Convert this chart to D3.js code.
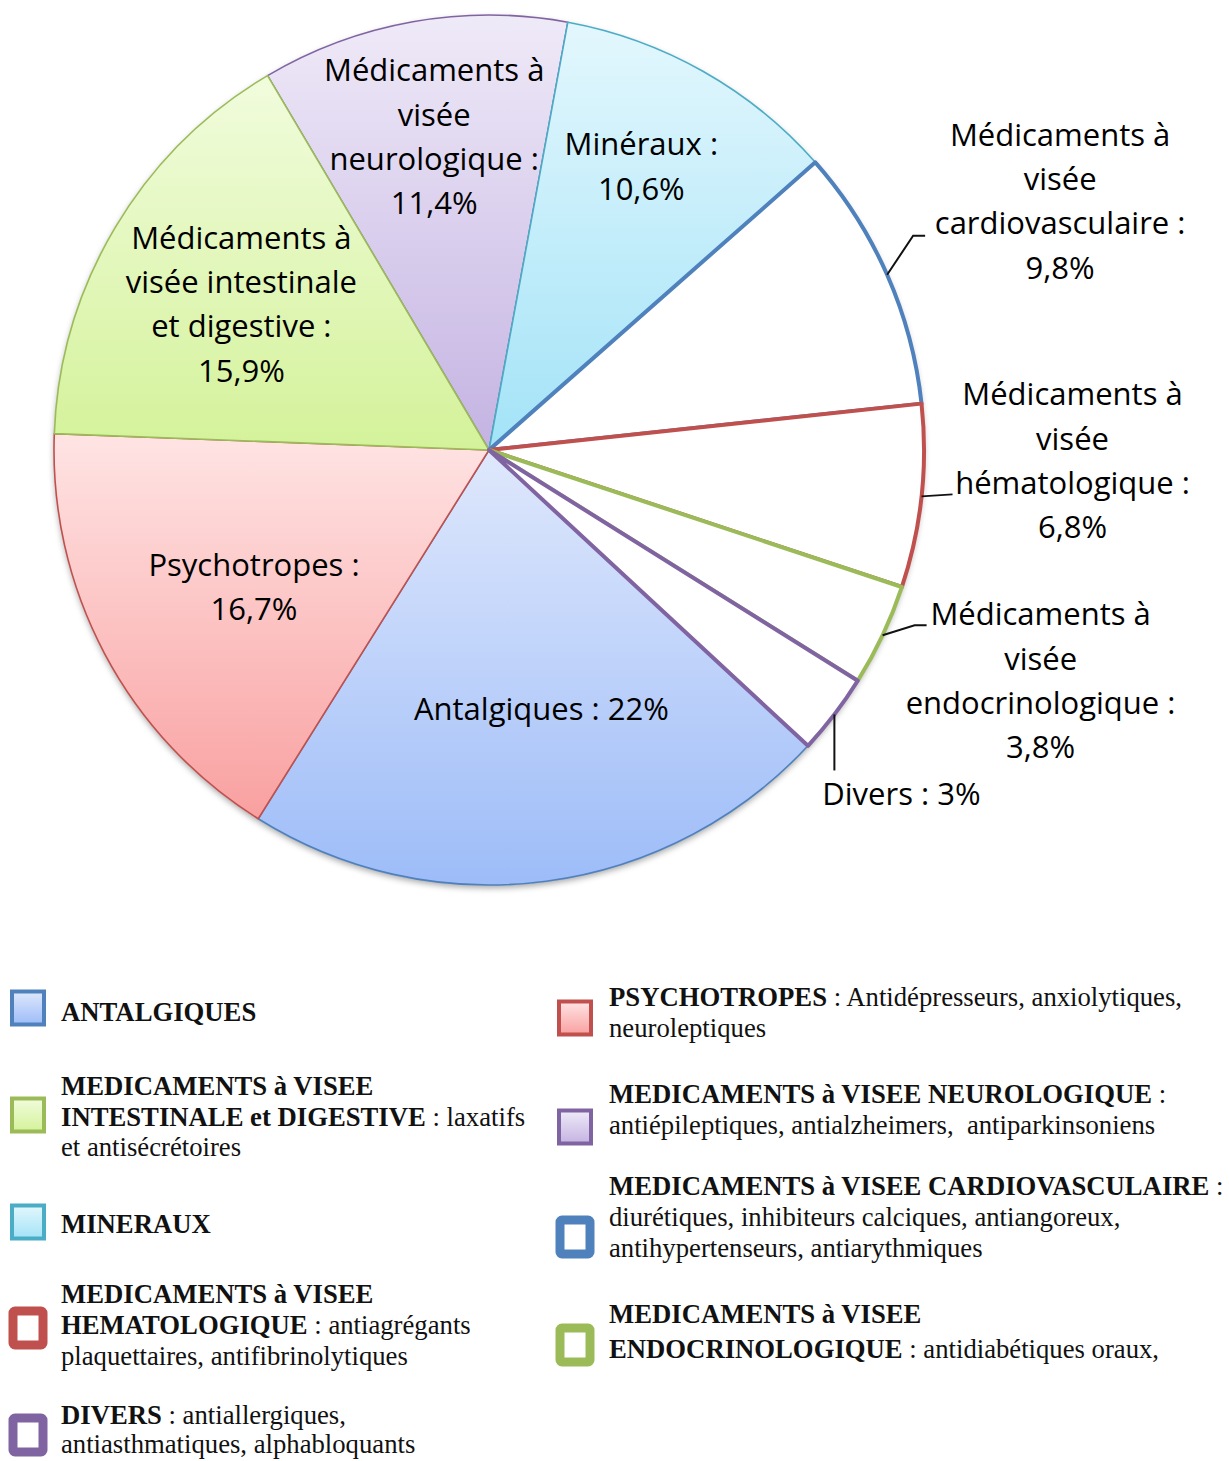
<!DOCTYPE html>
<html>
<head>
<meta charset="utf-8">
<script src="https://cdn.jsdelivr.net/npm/d3@7"></script>
<style>
body { margin: 0; background: #fff; }
svg { display: block; }
</style>
</head>
<body>
<svg width="1229" height="1461"></svg>
<script>
// slices, clockwise starting from the neurology slice
var categories = ["Neurologique", "Minéraux", "Cardiovasculaire", "Hématologique",
    "Endocrinologique", "Divers", "Antalgiques", "Psychotropes", "Intestinale et digestive"];
var values = [11.4, 10.6, 9.8, 6.8, 3.8, 3, 22, 16.7, 15.9];

// label text, {v} is replaced by the formatted value
var labelLines = [
    ["Médicaments à", "visée", "neurologique :", "{v}"],
    ["Minéraux :", "{v}"],
    ["Médicaments à", "visée", "cardiovasculaire :", "{v}"],
    ["Médicaments à", "visée", "hématologique :", "{v}"],
    ["Médicaments à", "visée", "endocrinologique :", "{v}"],
    ["Divers : {v}"],
    ["Antalgiques : {v}"],
    ["Psychotropes :", "{v}"],
    ["Médicaments à", "visée intestinale", "et digestive :", "{v}"]
];

// legend: [slice index, lines of [bold part, regular part]]
var legendEntries = [
    [6, [["ANTALGIQUES", ""]]],
    [8, [["MEDICAMENTS à VISEE", ""], ["INTESTINALE et DIGESTIVE", " : laxatifs"], ["", "et antisécrétoires"]]],
    [1, [["MINERAUX", ""]]],
    [3, [["MEDICAMENTS à VISEE", ""], ["HEMATOLOGIQUE", " : antiagrégants"], ["", "plaquettaires, antifibrinolytiques"]]],
    [5, [["DIVERS", " : antiallergiques,"], ["", "antiasthmatiques, alphabloquants"]]],
    [7, [["PSYCHOTROPES", " : Antidépresseurs, anxiolytiques,"], ["", "neuroleptiques"]]],
    [0, [["MEDICAMENTS à VISEE NEUROLOGIQUE", " :"], ["", "antiépileptiques, antialzheimers,  antiparkinsoniens"]]],
    [2, [["MEDICAMENTS à VISEE CARDIOVASCULAIRE", " :"], ["", "diurétiques, inhibiteurs calciques, antiangoreux,"], ["", "antihypertenseurs, antiarythmiques"]]],
    [4, [["MEDICAMENTS à VISEE", ""], ["ENDOCRINOLOGIQUE", " : antidiabétiques oraux,"]]]
];

// styles
var strokeColors = ["#8064a2", "#4bacc6", "#4f81bd", "#c0504d", "#9bbb59", "#8064a2", "#4f81bd", "#c0504d", "#9bbb59"];
var gradTop    = ["#efeaf8", "#e3f7fd", "#fff", "#fff", "#fff", "#fff", "#dfe8fc", "#ffe4e4", "#f1fcdd"];
var gradBottom = ["#c4b3e2", "#a3e3f7", "#fff", "#fff", "#fff", "#fff", "#9dbcf8", "#f9a0a0", "#d4f29a"];
var hollow = [false, false, true, true, true, true, false, false, false];

// layout
var cx = 489, cy = 450, R = 435;
var LABEL_FONT = "'Open Sans', 'DejaVu Sans', sans-serif";
var LABEL_SIZE = 31, LABEL_LH = 44.3;
// inner labels: [radius fraction, dx, dy]
var innerLayout = { 0: [0.72, 0, -4], 1: [0.72, -2, -10], 6: [0.6, 18, 1], 7: [0.64, 11, 8], 8: [0.66, -1, 2] };
// outer labels: leader elbow/end offsets from arc point, text offsets from leader end
var outerLayout = {
    2: { elbow: [26, -39], end: [38, -39], tx: 135, ty: -90 },
    3: { elbow: [31, -2], end: [31, -2], tx: 120, ty: -89 },
    4: { elbow: [32, -10], end: [44, -10], tx: 114, ty: 0 },
    5: { elbow: [0, 56], end: [0, 56], tx: 67, ty: 35 }
};

var svg = d3.select("svg");
var defs = svg.append("defs");

var shadow = defs.append("filter").attr("id", "shadow")
    .attr("x", "-10%").attr("y", "-10%").attr("width", "120%").attr("height", "120%");
shadow.append("feDropShadow").attr("dx", 0).attr("dy", 3).attr("stdDeviation", 3)
    .attr("flood-color", "#000").attr("flood-opacity", 0.35);

values.forEach(function (v, i) {
    if (hollow[i]) return;
    var g = defs.append("linearGradient").attr("id", "grad" + i)
        .attr("x1", 0).attr("y1", 0).attr("x2", 0).attr("y2", 1);
    g.append("stop").attr("offset", "0%").attr("stop-color", gradTop[i]);
    g.append("stop").attr("offset", "100%").attr("stop-color", gradBottom[i]);
});

function fmt(v) { return String(v).replace(".", ",") + "%"; }

var start = -30.6 * Math.PI / 180;
var pie = d3.pie().sort(null).value(function (d) { return d; })
    .startAngle(start).endAngle(start + 2 * Math.PI);
var arcs = pie(values);
var arc = d3.arc().innerRadius(0).outerRadius(R);

var chart = svg.append("g").attr("transform", "translate(" + cx + "," + cy + ")");

chart.append("circle").attr("r", R).attr("fill", "#fff").attr("filter", "url(#shadow)");

var filled = arcs.filter(function (d, i) { return !hollow[i]; });
var empty = arcs.filter(function (d, i) { return hollow[i]; });

chart.append("g").selectAll("path")
    .data(filled)
    .enter().append("path")
    .attr("d", arc)
    .attr("fill", function (d) { return "url(#grad" + d.index + ")"; })
    .attr("stroke", function (d) { return strokeColors[d.index]; })
    .attr("stroke-width", 1.6)
    .attr("stroke-linejoin", "round");

chart.append("g").selectAll("path")
    .data(empty)
    .enter().append("path")
    .attr("d", arc)
    .attr("fill", "#fff")
    .attr("stroke", function (d) { return strokeColors[d.index]; })
    .attr("stroke-width", 4)
    .attr("stroke-linejoin", "round");

function writeLines(sel, lines, x, y0) {
    sel.selectAll("tspan")
        .data(lines)
        .enter().append("tspan")
        .attr("x", x)
        .attr("y", function (d, k) { return y0 + k * LABEL_LH; })
        .text(function (d) { return d; });
}

var labels = chart.append("g")
    .attr("font-family", LABEL_FONT)
    .attr("font-size", LABEL_SIZE)
    .attr("fill", "#000")
    .attr("text-anchor", "middle");

arcs.forEach(function (d) {
    var i = d.index;
    var lines = labelLines[i].map(function (s) { return s.replace("{v}", fmt(values[i])); });
    if (innerLayout[i]) {
        var L = innerLayout[i];
        var c = d3.arc().innerRadius(R * L[0]).outerRadius(R * L[0]).centroid(d);
        var bx = c[0] + L[1], by = c[1] + L[2];
        var y0 = by - (lines.length - 1) * LABEL_LH / 2 + 10;
        writeLines(labels.append("text"), lines, bx, y0);
    } else {
        var O = outerLayout[i];
        var p = d3.arc().innerRadius(R).outerRadius(R).centroid(d);
        var pts = [p, [p[0] + O.elbow[0], p[1] + O.elbow[1]], [p[0] + O.end[0], p[1] + O.end[1]]];
        chart.append("path")
            .attr("d", d3.line()(pts))
            .attr("fill", "none")
            .attr("stroke", "#111")
            .attr("stroke-width", 2);
        var e = pts[2];
        writeLines(labels.append("text"), lines, e[0] + O.tx, e[1] + O.ty);
    }
});

// legend
var legendLayout = [
    // [square x, text x, first baseline, square center y]
    [10, 61, 1021, 1008], [10, 61, 1095, 1115], [10, 61, 1233, 1222], [10, 61, 1303, 1328], [10, 61, 1424, 1435],
    [557, 609, 1006, 1018], [557, 609, 1103, 1127], [557, 609, 1195, 1237], [557, 609, 1323, 1345]
];
var legendLineHeights = [31, 30.5, 31, 31, 29, 31, 31, 31, 35];

var legend = svg.append("g")
    .attr("font-family", "'Liberation Serif', 'Times New Roman', serif")
    .attr("font-size", 26.7)
    .attr("fill", "#111");

legendEntries.forEach(function (entry, j) {
    var i = entry[0], lines = entry[1], pos = legendLayout[j];
    var sx = pos[0] + 18;
    if (hollow[i]) {
        legend.append("rect")
            .attr("x", sx - 15).attr("y", pos[3] - 17)
            .attr("width", 30).attr("height", 34)
            .attr("rx", 2)
            .attr("fill", "#fff")
            .attr("stroke", strokeColors[i])
            .attr("stroke-width", 9);
    } else {
        legend.append("rect")
            .attr("x", sx - 16).attr("y", pos[3] - 16.5)
            .attr("width", 32).attr("height", 33)
            .attr("fill", "url(#grad" + i + ")")
            .attr("stroke", strokeColors[i])
            .attr("stroke-width", 4);
    }
    lines.forEach(function (ln, k) {
        var t = legend.append("text")
            .attr("x", pos[1])
            .attr("y", pos[2] + k * legendLineHeights[j])
            .style("white-space", "pre");
        if (ln[0]) t.append("tspan").attr("font-weight", "bold").text(ln[0]);
        if (ln[1]) t.append("tspan").text(ln[1]);
    });
});
</script>
</body>
</html>
